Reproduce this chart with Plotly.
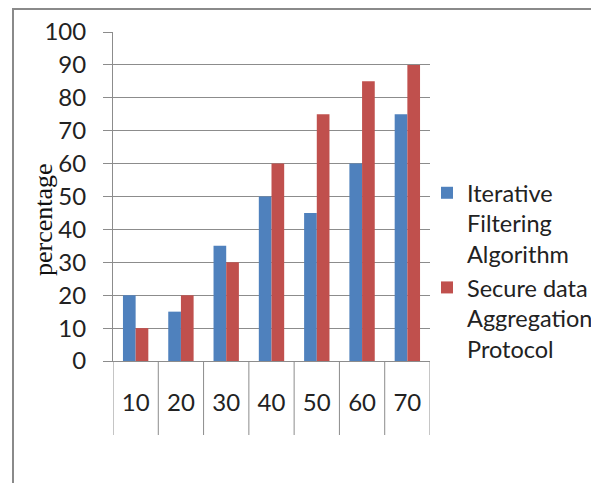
import plotly.graph_objects as go

categories = ["10", "20", "30", "40", "50", "60", "70"]
iterative_filtering = [20, 15, 35, 50, 45, 60, 75]
secure_aggregation = [10, 20, 30, 60, 75, 85, 90]
series_names = ["Iterative<br>Filtering<br>Algorithm", "Secure data<br>Aggregation<br>Protocol"]
y_ticks = [0, 10, 20, 30, 40, 50, 60, 70, 80, 90, 100]

OFF = 8  # page body margin
W, H = 599 - OFF, 483 - OFF
# plot area in page pixels: x 113..430, y 32..361
L, T = 113 - OFF, 32 - OFF
R = W - (430 - OFF)
B = H - (361 - OFF)
pw, ph = W - L - R, H - T - B

def px_x(x):
    return (x - OFF - L) / pw

def px_y(y):
    return 1 - (y - OFF - T) / ph

fig = go.Figure()
fig.add_trace(go.Bar(x=categories, y=iterative_filtering, name=series_names[0],
                     marker=dict(color="#4F81BD", line=dict(width=0))))
fig.add_trace(go.Bar(x=categories, y=secure_aggregation, name=series_names[1],
                     marker=dict(color="#C0504D", line=dict(width=0))))

grid = "#8c8c8c"
shapes = []
for i in range(len(categories) + 1):
    shapes.append(dict(type="line", xref="x", yref="paper", x0=i - 0.5, x1=i - 0.5,
                       y0=0, y1=px_y(435), line=dict(color=grid, width=1)))
shapes.append(dict(type="rect", xref="paper", yref="paper",
                   x0=px_x(13), x1=px_x(640), y0=px_y(520), y1=px_y(9),
                   line=dict(color="#8a8a8a", width=2), fillcolor="rgba(0,0,0,0)", layer="below"))

FS = 24
fig.update_layout(
    width=W, height=H,
    margin=dict(l=L, r=R, t=T, b=B, autoexpand=False),
    paper_bgcolor="white", plot_bgcolor="white",
    barmode="group", bargap=0.44, bargroupgap=0,
    font=dict(family="Lato", size=FS, color="#222222"),
    xaxis=dict(type="category", showgrid=False, showline=True, linecolor=grid, linewidth=1,
               ticks="", ticklabelstandoff=20, tickfont=dict(size=FS, color="#222222"),
               range=[-0.5, len(categories) - 0.5]),
    yaxis=dict(range=[0, 100], tickvals=y_ticks, showgrid=True, gridcolor=grid, gridwidth=1,
               showline=True, linecolor=grid, linewidth=1, ticks="outside", ticklen=9,
               tickcolor=grid, ticklabelstandoff=12, tickfont=dict(size=FS, color="#222222"),
               zeroline=False),
    legend=dict(x=px_x(427), y=px_y(171), xanchor="left", yanchor="top",
                valign="top", itemwidth=30, font=dict(size=23.5, color="#222222"),
                bgcolor="rgba(0,0,0,0)", tracegroupgap=0),
    shapes=shapes,
    annotations=[dict(text="percentage", xref="paper", yref="paper", x=px_x(43), y=px_y(220),
                      xanchor="center", yanchor="middle",
                      textangle=-90, showarrow=False,
                      font=dict(family="Liberation Serif", size=26, color="#111111"))],
)

fig.write_html("out.html")
